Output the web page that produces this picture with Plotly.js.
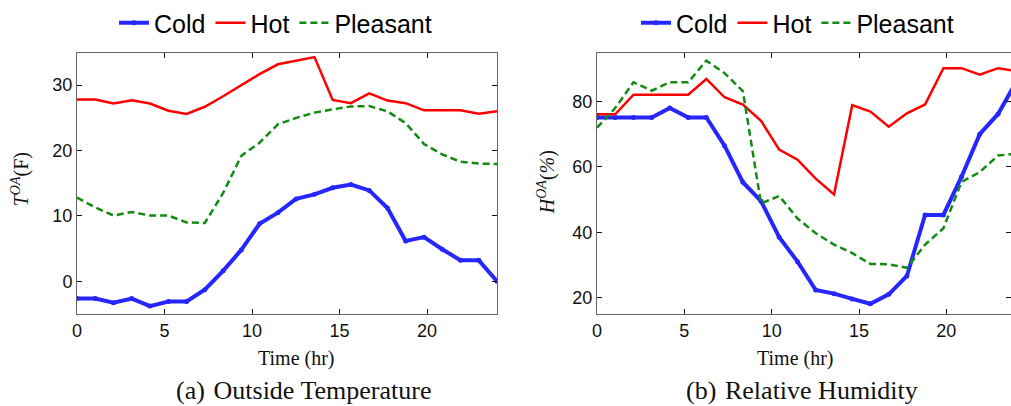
<!DOCTYPE html>
<html>
<head>
<meta charset="utf-8">
<script src="https://cdn.plot.ly/plotly-3.0.1.min.js"></script>
<style>html,body{margin:0;padding:0;background:#fff;}#chart{width:1011px;height:406px;}</style>
</head>
<body>
<div id="chart"></div>
<script>
// Time (hr)
const time = [0, 1.04, 2.09, 3.13, 4.17, 5.22, 6.26, 7.30, 8.35, 9.39, 10.43, 11.48, 12.52, 13.57, 14.61, 15.65, 16.70, 17.74, 18.78, 19.83, 20.87, 21.91, 22.96, 24];

// (a) Outside Temperature (F)
const tempCold = [-2.65, -2.65, -3.3, -2.65, -3.8, -3.1, -3.1, -1.3, 1.6, 4.8, 8.8, 10.5, 12.6, 13.3, 14.3, 14.8, 13.9, 11.2, 6.15, 6.75, 4.9, 3.2, 3.2, 0];
const tempHot = [27.8, 27.8, 27.2, 27.7, 27.2, 26.1, 25.6, 26.7, 28.3, 30.0, 31.7, 33.2, 33.8, 34.3, 27.75, 27.25, 28.75, 27.65, 27.25, 26.15, 26.15, 26.15, 25.65, 26.0];
const tempPleasant = [12.8, 11.3, 10.05, 10.6, 10.05, 10.05, 9.0, 8.9, 13.5, 19.2, 21.2, 24.0, 25.0, 25.8, 26.3, 26.75, 26.8, 26.0, 24.2, 21.0, 19.4, 18.3, 18.0, 17.95];

// (b) Relative Humidity (%)
const humCold = [75.1, 75.1, 75.1, 75.1, 78.0, 75.1, 75.1, 66.5, 55.3, 49.5, 38.5, 31.0, 22.3, 21.2, 19.6, 18.1, 21.0, 26.6, 45.3, 45.3, 57.0, 70.0, 76.2, 86.0];
const humHot = [76.1, 76.1, 82.1, 82.1, 82.1, 82.1, 86.9, 81.3, 79.1, 74.1, 65.3, 62.2, 56.4, 51.6, 78.9, 76.9, 72.3, 76.4, 79.1, 90.2, 90.2, 88.2, 90.2, 89.3];
const humPleasant = [72.0, 78.0, 85.9, 83.3, 85.9, 85.9, 92.5, 88.7, 83.2, 48.8, 51.1, 44.2, 39.7, 36.2, 33.6, 30.3, 30.2, 29.1, 36.2, 41.2, 55.4, 58.4, 63.5, 64.0];

const seriesNames = ['Cold', 'Hot', 'Pleasant'];
const xTicks = [0, 5, 10, 15, 20];
const tempTicks = [0, 10, 20, 30];
const humTicks = [20, 40, 60, 80];

const W = 1011, H = 406;
const BLUE = 'rgb(38,38,255)', RED = '#ff0000', GREEN = '#138a13';

function mk(y, i, xa, ya, lg) {
  const base = {x: time, y: y, xaxis: xa, yaxis: ya, name: seriesNames[i], legend: lg};
  if (i === 0) return Object.assign(base, {mode: 'lines+markers', line: {color: BLUE, width: 4}, marker: {color: BLUE, size: 5, symbol: 'circle'}});
  if (i === 1) return Object.assign(base, {mode: 'lines', line: {color: RED, width: 2.5}});
  return Object.assign(base, {mode: 'lines', line: {color: GREEN, width: 2.5, dash: '7px,4px'}});
}

const data = [
  mk(tempCold, 0, 'x', 'y', 'legend'),
  mk(tempHot, 1, 'x', 'y', 'legend'),
  mk(tempPleasant, 2, 'x', 'y', 'legend'),
  mk(humCold, 0, 'x2', 'y2', 'legend2'),
  mk(humHot, 1, 'x2', 'y2', 'legend2'),
  mk(humPleasant, 2, 'x2', 'y2', 'legend2')
];

const tickFont = {family: 'Liberation Sans, Arial, sans-serif', size: 18, color: '#111'};
const serif = 'Liberation Serif, Times New Roman, serif';
const ydom = [1 - 313 / H, 1 - 49 / H];

function xax(dom, range) {
  return {domain: dom, range: range, tickvals: xTicks, ticks: 'inside', ticklen: 5, tickcolor: '#111',
    showline: true, linecolor: '#666', linewidth: 1, mirror: 'ticks', showgrid: false, zeroline: false,
    tickfont: tickFont, fixedrange: true};
}
function yax(range, tv, anchor) {
  return {domain: ydom, range: range, tickvals: tv, ticks: 'inside', ticklen: 5, tickcolor: '#111',
    showline: true, linecolor: '#666', linewidth: 1, mirror: 'ticks', showgrid: false, zeroline: false,
    tickfont: tickFont, anchor: anchor, fixedrange: true};
}

const legendBase = {orientation: 'h', yanchor: 'middle', xanchor: 'left', bgcolor: 'rgba(0,0,0,0)',
  borderwidth: 0, font: {family: 'Liberation Sans, Arial, sans-serif', size: 25, color: '#000'}, itemwidth: 30};

function ann(text, px, py, size, angle) {
  const a = {text: text, x: px / W, y: 1 - py / H, xref: 'paper', yref: 'paper', xanchor: 'center', yanchor: 'middle',
    showarrow: false, font: {family: serif, size: size, color: '#111'}};
  if (angle) a.textangle = angle;
  return a;
}

const layout = {
  width: W, height: H,
  margin: {l: 0, r: 0, t: 0, b: 0},
  paper_bgcolor: '#fff', plot_bgcolor: '#fff',
  xaxis: Object.assign(xax([77 / W, 497 / W], [0, 24]), {anchor: 'y'}),
  yaxis: yax([-5, 35], tempTicks, 'x'),
  xaxis2: Object.assign(xax([597 / W, 1], [0, 23.7]), {anchor: 'y2'}),
  yaxis2: yax([15, 95], humTicks, 'x2'),
  legend: Object.assign({}, legendBase, {x: 114 / W, y: 1 - 19 / H}),
  legend2: Object.assign({}, legendBase, {x: 636 / W, y: 1 - 19 / H}),
  annotations: [
    ann('Time (hr)', 296, 358, 20),
    ann('Time (hr)', 795, 358, 20),
    ann('(a) \u200aOutside Temperature', 303, 390, 26),
    ann('(b) \u200aRelative Humidity', 802, 390, 26),
    ann('<i>T</i><sup><i>OA</i></sup>(F)', 20, 177, 20, -90),
    ann('<i>H</i><sup><i>OA</i></sup>(<i>%</i>)', 546, 180, 20, -90)
  ]
};

Plotly.newPlot('chart', data, layout, {displayModeBar: false, staticPlot: true});
</script>
</body>
</html>
